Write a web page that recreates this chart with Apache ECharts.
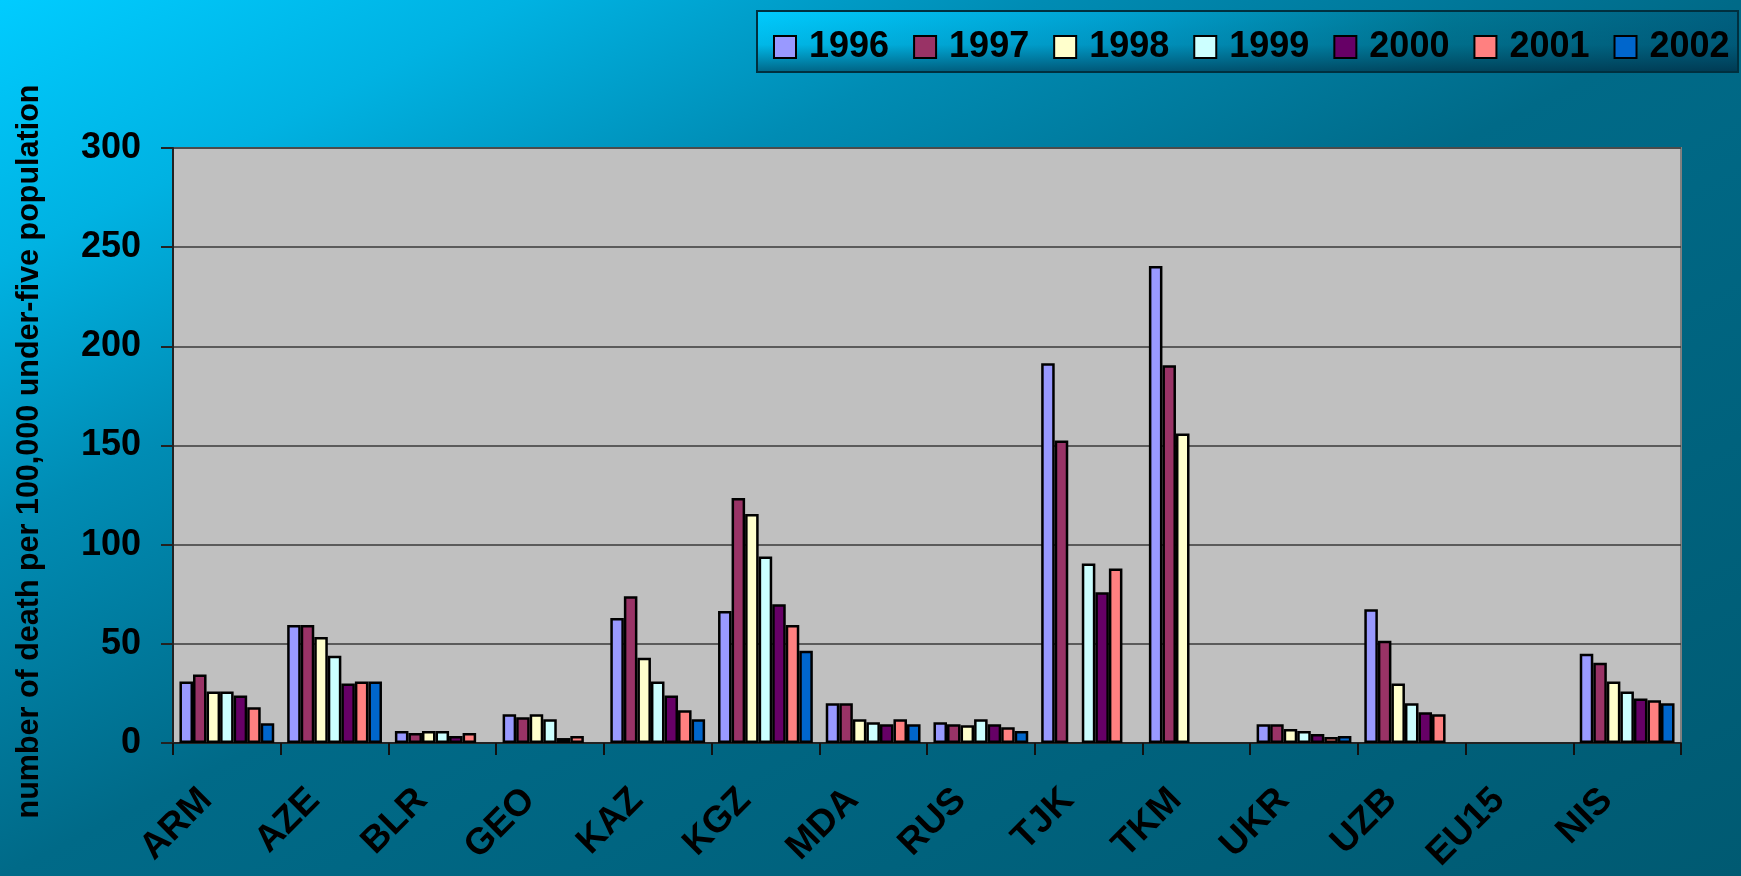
<!DOCTYPE html>
<html>
<head>
<meta charset="utf-8">
<script src="https://cdn.jsdelivr.net/npm/echarts@6/dist/echarts.min.js"></script>
<style>
html,body{margin:0;padding:0;}
#c{width:1741px;height:876px;}
</style>
</head>
<body>
<div id="c"></div>
<script>
const categories = ['ARM','AZE','BLR','GEO','KAZ','KGZ','MDA','RUS','TJK','TKM','UKR','UZB','EU15','NIS'];
const years = ['1996','1997','1998','1999','2000','2001','2002'];
const v1996 = [31, 59.5, 6, 14.5, 63, 66.5, 20, 10.5, 191.5, 240.5, 9.5, 67.5, null, 45];
const v1997 = [34.5, 59.5, 5, 13, 74, 123.5, 20, 9.5, 152.5, 190.5, 9.5, 51.5, null, 40.5];
const v1998 = [26, 53.5, 6, 14.5, 43, 115.5, 12, 9, null, 156, 7, 30, null, 31];
const v1999 = [26, 44, 6, 12, 31, 94, 10.5, 12, 90.5, null, 6, 20, null, 26];
const v2000 = [24, 30, 3.5, 2.5, 24, 70, 9.5, 9.5, 76, null, 4.5, 15.5, null, 22.5];
const v2001 = [18, 31, 5, 3.5, 16.5, 59.5, 12, 8, 88, null, 3, 14.5, null, 21.5];
const v2002 = [10, 31, null, null, 12, 46.5, 9.5, 6, null, null, 3.5, null, null, 20];
const yTicks = [0, 50, 100, 150, 200, 250, 300];
const colors = ['#9999FF','#993366','#FFFFCC','#CCFFFF','#660066','#FF8080','#0066CC'];
const allValues = [v1996, v1997, v1998, v1999, v2000, v2001, v2002];

const FONT = 'Arial, "Liberation Sans", sans-serif';
const chart = echarts.init(document.getElementById('c'), null, {renderer:'canvas'});

const series = years.map((y, i) => ({
  name: y,
  type: 'bar',
  data: allValues[i],
  barGap: '0%',
  barCategoryGap: '12%',
  itemStyle: { color: colors[i], borderColor: '#000', borderWidth: 2.5 }
}));

chart.setOption({
  backgroundColor: {
    type: 'linear', x: 0, y: 0, x2: 703, y2: 1398, global: true,
    colorStops: [
      {offset: 0, color: '#00CCFF'},
      {offset: 0.15, color: '#00B2E2'},
      {offset: 0.3, color: '#008CB4'},
      {offset: 0.5, color: '#006A88'},
      {offset: 1, color: '#005A72'}
    ]
  },
  animation: false,
  graphic: [
    { type: 'rect', z: 1, shape: {x: 757, y: 11, width: 981, height: 61},
      style: { fill: {type:'linear', x:0, y:0, x2:1, y2:0, colorStops:[
        {offset:0, color:'#00CCFF'}, {offset:0.35, color:'#00A4D4'}, {offset:0.7, color:'#007896'}, {offset:1, color:'#006080'}]} } },
    { type: 'rect', z: 2, shape: {x: 757, y: 11, width: 981, height: 61},
      style: { fill: {type:'linear', x:0, y:0, x2:0, y2:1, colorStops:[
        {offset:0, color:'rgba(0,40,60,0)'}, {offset:0.55, color:'rgba(0,40,60,0.12)'}, {offset:1, color:'rgba(0,30,50,0.6)'}]},
        stroke: '#00303F', lineWidth: 2 } }
  ],
  legend: {
    data: years,
    left: 768, top: 24,
    itemWidth: 22, itemHeight: 22, itemGap: 24,
    icon: 'rect',
    itemStyle: { borderColor: '#000', borderWidth: 2 },
    textStyle: { fontFamily: FONT, fontSize: 36, fontWeight: 'bold', color: '#000', padding: [0,0,0,8], lineHeight: 36 },
    z: 10
  },
  grid: {
    left: 173, top: 148, right: 60, bottom: 133,
    show: true, backgroundColor: '#C0C0C0', borderColor: '#808080', borderWidth: 2,
    containLabel: false,
    outerBoundsMode: 'none'
  },
  xAxis: {
    type: 'category',
    data: categories,
    axisLine: { lineStyle: { color: '#222', width: 2 } },
    axisTick: { show: true, alignWithLabel: false, length: 12, lineStyle: { color: '#111', width: 2 } },
    axisLabel: {
      rotate: 45, interval: 0, margin: 31, padding: [0,29,0,0],
      fontFamily: FONT, fontSize: 37, fontWeight: 'bold', color: '#000'
    }
  },
  yAxis: {
    type: 'value', min: 0, max: 300, interval: 50,
    name: 'number of death per 100,000 under-five population',
    nameLocation: 'middle', nameGap: 128,
    nameTextStyle: { fontFamily: FONT, fontSize: 30.5, fontWeight: 'bold', color: '#000', padding: [0,12,0,0] },
    axisLine: { show: true, lineStyle: { color: '#222', width: 2 } },
    axisTick: { show: true, length: 12, lineStyle: { color: '#222', width: 2 } },
    axisLabel: {
      margin: 32, fontFamily: FONT, fontSize: 36, fontWeight: 'bold', color: '#000',
      formatter: v => yTicks.includes(v) ? String(v) : ''
    },
    splitLine: { show: true, lineStyle: { color: '#3A3A3A', width: 1.5 } }
  },
  series: series
});
</script>
</body>
</html>
